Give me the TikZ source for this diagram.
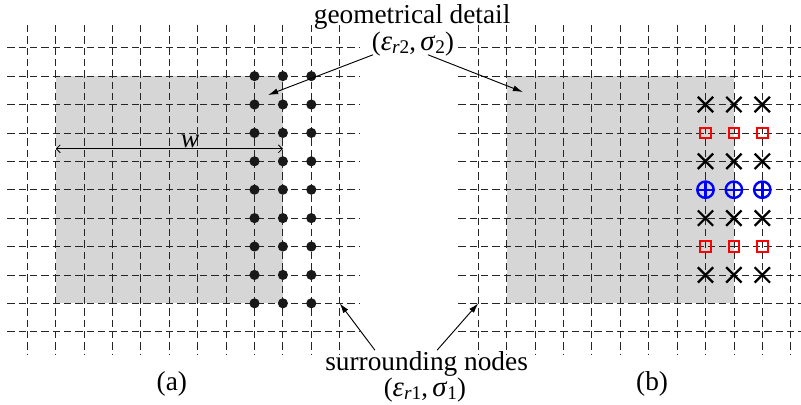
\documentclass[tikz,border=0pt]{standalone}
\usepackage{fontspec}
\setmainfont{Liberation Serif}
\usetikzlibrary{arrows.meta,shapes.misc}

\newcommand{\lowsub}[1]{\raisebox{-2pt}{\fontsize{14.5pt}{15pt}\selectfont #1}}
\newcommand{\grk}[1]{{\fontsize{21.5pt}{22pt}\selectfont\textit{#1}}}

\begin{document}
\begin{tikzpicture}[x=21.3pt, y=21.3pt,
        gridline/.style={black!85, line width=0.6pt, dash pattern=on 5.5pt off 3pt},
        detail/.style={fill=black!16, draw=none},
        dotnode/.style={circle, fill=black!90, inner sep=0pt, minimum size=7.6pt},
        crossmk/.style={cross out, draw=black, line width=1.7pt, inner sep=0pt, minimum size=9.8pt},
        sqmk/.style={rectangle, draw=red, line width=1.5pt, inner sep=0pt, minimum size=8pt},
        plusmk/.style={circle, draw=blue, line width=1.8pt, inner sep=0pt, minimum size=12.3pt,
            path picture={\draw[blue, line width=1.8pt] (path picture bounding box.north) -- (path picture bounding box.south)
                (path picture bounding box.west) -- (path picture bounding box.east);}},
        lbltext/.style={font=\fontsize{20.5pt}{24pt}\selectfont, inner sep=0pt},
        epstext/.style={font=\fontsize{20pt}{22pt}\selectfont, inner sep=0pt},
        lblarrow/.style={-{Latex[length=7.5pt,width=4.5pt]}, line width=0.7pt},
        warrow/.style={{Straight Barb[length=3pt,width=6pt]}-{Straight Barb[length=3pt,width=6pt]}, line width=0.6pt}
    ]
        \useasboundingbox (-0.961,1.680) rectangle (27.243,-12.546);

        % Grids (a) and (b)
        \foreach \gx/\xe in {0/11.7, 15.88/11.36} {
            \fill[detail] (\gx+1,-1) rectangle (\gx+9,-9);
            \foreach \i in {0,...,11}
                \draw[gridline] (\gx+\i,0.8) -- (\gx+\i,-10.8);
            \foreach \j in {0,...,10}
                \draw[gridline] (\gx-0.7,-\j) -- (\gx+\xe,-\j);
        }

        % Nodes of the detail in (a)
        \foreach \c in {8,9,10}
            \foreach \r in {1,...,9}
                \node[dotnode] (d\c\r) at (\c,-\r) {};

        % Markers in (b)
        \foreach \r/\m in {2/crossmk, 3/sqmk, 4/crossmk, 5/plusmk, 6/crossmk, 7/sqmk, 8/crossmk}
            \foreach \c in {8,9,10}
                \node[\m] (m\c\r) at (15.88+\c,-\r) {};

        % Width
        \coordinate (wl) at (1,-3.56);
        \coordinate (wr) at (9,-3.56);
        \draw[warrow] (wl) -- (wr);
        \node[lbltext, anchor=base] (wlab) at (5.73,-3.53) {\textit{w}};

        % Labels
        \node[lbltext, anchor=base] (geo) at (13.55,0.86) {geometrical detail};
        \node[epstext] (eps2) at (13.58,0.12) {(\grk{ε}\lowsub{\textit{r}2},\,\grk{σ}\lowsub{2})};
        \node[lbltext, anchor=base] (surr) at (14.06,-11.35) {surrounding nodes};
        \node[epstext] (eps1) at (14.0,-12.06) {(\grk{ε}\lowsub{\textit{r}1},\,\grk{σ}\lowsub{1})};
        \node[lbltext] (capa) at (5.09,-11.84) {(a)};
        \node[lbltext] (capb) at (22.0,-11.84) {(b)};

        % Arrows
        \coordinate (ina) at (8.48,-1.665);
        \coordinate (inb) at (17.45,-1.56);
        \coordinate (outa) at (11,-9);
        \coordinate (outb) at (15.88,-9);
        \draw[lblarrow] ([shift={(-1.41,-0.37)}]eps2.center) -- (ina);
        \draw[lblarrow] ([shift={(0.53,-0.37)}]eps2.center) -- (inb);
        \draw[lblarrow] ([shift={(-1.82,0.70)}]surr.base) -- (outa);
        \draw[lblarrow] ([shift={(0.37,0.70)}]surr.base) -- (outb);
\end{tikzpicture}
\end{document}
